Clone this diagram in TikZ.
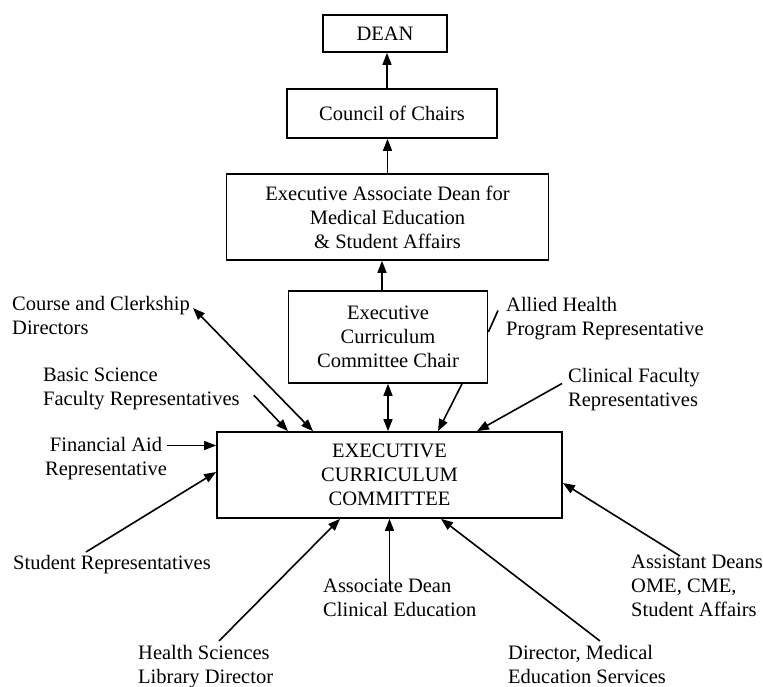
\documentclass[tikz,border=0pt]{standalone}
\usepackage{fontspec}
\setmainfont{Liberation Serif}
\usetikzlibrary{arrows.meta,calc}
\begin{document}
\begin{tikzpicture}[x=1pt,y=-1pt,
  every node/.style={font=\fontsize{20.5}{24}\selectfont, inner sep=0pt},
  box/.style={draw, line width=1.7pt, align=center},
  lbl/.style={align=left, anchor=north west},
  link/.style={line width=1.6pt},
  tip/.style={},
  arr/.style={link, -{Triangle[length=12pt,width=9pt]}},
  biarr/.style={link, {Triangle[length=12pt,width=9pt]}-{Triangle[length=12pt,width=9pt]}}]
\fill[white] (0,0) rectangle (763,687);
\useasboundingbox (0,0) rectangle (763,687);

% chain of command
\node[box, minimum width=124pt, minimum height=37pt] (dean) at (385,33.5) {DEAN};
\node[box, minimum width=210pt, minimum height=49pt] (council) at (392,113.5) {Council of Chairs};
\node[box, minimum width=322pt, minimum height=86pt] (ead) at (387.5,217) {Executive Associate Dean for\\Medical Education\\\& Student Affairs};
\node[box, minimum width=199pt, minimum height=92pt] (chair) at (388,337) {Executive\\Curriculum\\Committee Chair};
\node[box, minimum width=345pt, minimum height=86pt] (ecc) at (389.5,475) {EXECUTIVE\\CURRICULUM\\COMMITTEE};

% committee members
\node[lbl] (course) at (12,296) {Course and Clerkship\\Directors};
\node[lbl] (basic) at (43,368) {Basic Science\\Faculty Representatives};
\node[align=center, anchor=north] (fin) at (106,437) {Financial Aid\\Representative};
\node[lbl] (student) at (13,555) {Student Representatives};
\node[lbl] (allied) at (506,297) {Allied Health\\Program Representative};
\node[lbl] (clinical) at (568,368) {Clinical Faculty\\Representatives};
\node[lbl] (assistant) at (631,555) {Assistant Deans\\OME, CME,\\Student Affairs};
\node[lbl] (assoc) at (323,579) {Associate Dean\\Clinical Education};
\node[lbl] (health) at (138,645) {Health Sciences\\Library Director};
\node[lbl] (director) at (508,645) {Director, Medical\\Education Services};

% reporting lines
\draw[arr] ([xshift=-5pt]council.north) -- ([xshift=-5pt]council.north |- dean.south);
\draw[arr] (ead.north) -- (ead.north |- council.south);
\draw[arr] ([xshift=-6pt]chair.north) -- ([xshift=-6pt]chair.north |- ead.south);
\draw[biarr] (chair.south) -- (chair.south |- ecc.north);
\draw[arr] ([xshift=74pt]chair.south) -- ([xshift=48.5pt]ecc.north);
\draw[link] ([yshift=5pt]chair.east) -- ([xshift=-8pt,yshift=8pt]allied.west);
\draw[arr] ([xshift=-6pt,yshift=6pt]clinical.west) -- ([xshift=87.5pt]ecc.north);
\draw[arr] ([xshift=49pt,yshift=-1pt]assistant.north west) -- ([yshift=-8pt]ecc.east);
\draw[biarr] ([xshift=3pt,yshift=-12pt]course.north east) -- ([xshift=-76.5pt]ecc.north);
\draw[arr] ([xshift=14pt,yshift=-6pt]basic.east) -- ([xshift=-101.5pt]ecc.north);
\draw[arr] ([yshift=13pt]fin.east) -- ([yshift=13pt]fin.east -| ecc.west);
\draw[arr] ([xshift=73pt,yshift=3pt]student.north west) -- ([yshift=3pt]ecc.west);
\draw[arr] ([xshift=81pt,yshift=4pt]health.north west) -- ([xshift=-49.5pt]ecc.south);
\draw[arr] ([yshift=-6pt]assoc.north -| ecc.south) -- (ecc.south);
\draw[arr] ([xshift=92pt,yshift=4pt]director.north west) -- ([xshift=51.5pt]ecc.south);
\end{tikzpicture}
\end{document}
